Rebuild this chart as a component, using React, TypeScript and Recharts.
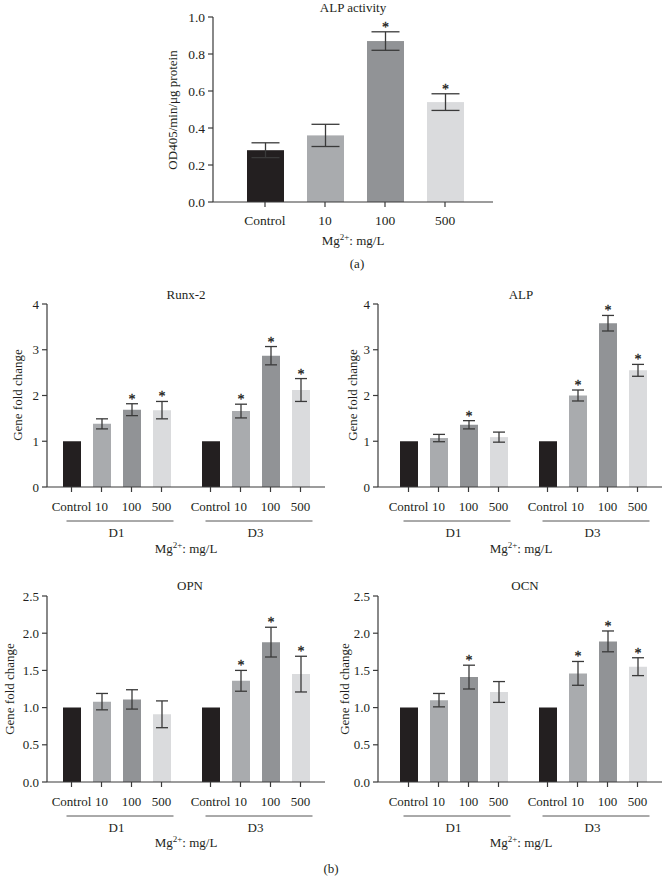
import React from 'react';
import { BarChart, Bar, XAxis, YAxis, ErrorBar } from 'recharts';

const FONT = '"Liberation Serif", "Times New Roman", serif';
const INK = '#3a3a3a';
const TEXT = '#231f20';

const doses = ['Control', '10', '100', '500'];
const doseColors = ['#231f20', '#a9abae', '#919396', '#dadbdd'];
const days = ['D1', 'D3'];

// (a) ALP activity, one value per dose
const alpActMean = [0.28, 0.36, 0.87, 0.54];
const alpActErr = [0.04, 0.06, 0.05, 0.045];
const alpActStar = ['', '', '*', '*'];
const alpActTicks = [0, 0.2, 0.4, 0.6, 0.8, 1.0];

// (b) gene fold change: rows are days (D1, D3), columns are doses
const runxMean = [[1, 1.38, 1.69, 1.68], [1, 1.66, 2.87, 2.12]];
const runxErr = [[0, 0.11, 0.13, 0.19], [0, 0.15, 0.2, 0.25]];
const runxStar = [['', '', '*', '*'], ['', '*', '*', '*']];

const alpMean = [[1, 1.07, 1.36, 1.09], [1, 2.0, 3.58, 2.55]];
const alpErr = [[0, 0.08, 0.09, 0.11], [0, 0.12, 0.17, 0.13]];
const alpStar = [['', '', '*', ''], ['', '*', '*', '*']];

const opnMean = [[1, 1.08, 1.11, 0.91], [1, 1.36, 1.88, 1.45]];
const opnErr = [[0, 0.11, 0.13, 0.18], [0, 0.14, 0.2, 0.24]];
const opnStar = [['', '', '', ''], ['', '*', '*', '*']];

const ocnMean = [[1, 1.1, 1.41, 1.21], [1, 1.46, 1.89, 1.55]];
const ocnErr = [[0, 0.09, 0.16, 0.14], [0, 0.16, 0.14, 0.12]];
const ocnStar = [['', '', '*', ''], ['', '*', '*', '*']];

const ticks4 = [0, 1, 2, 3, 4];
const ticks25 = [0, 0.5, 1.0, 1.5, 2.0, 2.5];

const BAR = 18;
const GAP = 12;

const Txt = ({ x, y, size = 13, rotate = false, children }: any) => (
  <div
    style={{
      position: 'absolute',
      left: x,
      top: y,
      transform: `translate(-50%, -50%)${rotate ? ' rotate(-90deg)' : ''}`,
      whiteSpace: 'nowrap',
      fontFamily: FONT,
      fontSize: size,
      lineHeight: 1,
      color: TEXT,
    }}
  >
    {children}
  </div>
);

const MgLabel = ({ x, y }: any) => (
  <Txt x={x} y={y}>
    Mg<span style={{ fontSize: 9, position: 'relative', top: -5, lineHeight: 0 }}>2+</span>: mg/L
  </Txt>
);

// asterisk above the error bar; pixels per unit come from the bar itself
const starLabel = (errs: number[], stars: string[]) => (p: any) => {
  const vb = p.viewBox || {};
  const x = vb.x ?? p.x;
  const y = vb.y ?? p.y;
  const w = vb.width ?? p.width;
  const h = vb.height ?? p.height;
  const i = p.index;
  if (!stars[i] || !p.value) return null;
  const top = y - (errs[i] * h) / p.value;
  return (
    <text x={x + w / 2} y={top} textAnchor="middle" fontFamily={FONT} fontSize={14}
      fill={TEXT} stroke={TEXT} strokeWidth={0.3}>
      {stars[i]}
    </text>
  );
};

const DayTick = (props: any) => {
  const { x, y, payload } = props;
  return (
    <g>
      {doses.map((d, j) => {
        const cx = x + (j - 1.5) * (BAR + GAP);
        return (
          <g key={d}>
            <line x1={cx} x2={cx} y1={y} y2={y + 5} stroke={INK} strokeWidth={1.2} />
            <text x={cx} y={y + 24} textAnchor="middle" fontFamily={FONT} fontSize={13} fill={TEXT}>
              {d}
            </text>
          </g>
        );
      })}
      <line x1={x - 50} x2={x + 57} y1={y + 34} y2={y + 34} stroke="#555" strokeWidth={1} />
      <text x={x} y={y + 50} textAnchor="middle" fontFamily={FONT} fontSize={13} fill={TEXT}>
        {payload.value}
      </text>
    </g>
  );
};

const tickStyle = { fontFamily: FONT, fontSize: 13, fill: TEXT };

const GeneChart = ({ mean, err, star, ticks, fmt, left, top, width, yAxisW, padLeft, plotH }: any) => {
  const rows = days.map((day, i) => {
    const row: any = { day };
    doses.forEach((_, j) => {
      row['v' + j] = mean[i][j];
      row['e' + j] = err[i][j];
    });
    return row;
  });
  const mTop = 14;
  const xh = 70;
  return (
    <div style={{ position: 'absolute', left, top }}>
      <BarChart
        width={width}
        height={mTop + plotH + xh}
        data={rows}
        margin={{ top: mTop, right: width === 330 ? 5 : 1, left: 0, bottom: 0 }}
        barGap={GAP}
      >
        <XAxis
          dataKey="day"
          height={xh}
          interval={0}
          tickSize={0}
          tickMargin={0}
          tick={<DayTick />}
          axisLine={{ stroke: INK, strokeWidth: 1.2 }}
          padding={{ left: padLeft, right: 0 }}
        />
        <YAxis
          width={yAxisW}
          domain={[ticks[0], ticks[ticks.length - 1]]}
          ticks={ticks}
          interval={0}
          tickFormatter={fmt}
          tick={tickStyle}
          tickSize={5}
          tickMargin={3}
          axisLine={{ stroke: INK, strokeWidth: 1.2 }}
          tickLine={{ stroke: INK, strokeWidth: 1.2 }}
        />
        {doses.map((d, j) => (
          <Bar
            key={d}
            dataKey={'v' + j}
            fill={doseColors[j]}
            barSize={BAR}
            isAnimationActive={false}
            label={starLabel(err.map((r: number[]) => r[j]), star.map((r: string[]) => r[j]))}
          >
            <ErrorBar dataKey={'e' + j} width={6} stroke={INK} strokeWidth={1.3} isAnimationActive={false} />
          </Bar>
        ))}
      </BarChart>
    </div>
  );
};

export default function App() {
  const actRows = doses.map((dose, i) => ({ dose, mean: alpActMean[i], err: alpActErr[i] }));
  const int = (v: number) => String(v);
  const one = (v: number) => v.toFixed(1);

  return (
    <div style={{ position: 'absolute', left: 0, top: 0, width: 663, height: 886, background: '#fff', overflow: 'hidden' }}>
      {/* (a) */}
      <div style={{ position: 'absolute', left: 0, top: 0 }}>
        <BarChart width={663} height={240} data={actRows} margin={{ top: 17, right: 170, left: 150, bottom: 8 }}>
          <XAxis
            dataKey="dose"
            height={30}
            interval={0}
            tick={{ ...tickStyle, fontSize: 13.5 }}
            tickSize={5}
            tickMargin={8}
            axisLine={{ stroke: INK, strokeWidth: 1.2 }}
            tickLine={{ stroke: INK, strokeWidth: 1.2 }}
            padding={{ left: 22, right: 18 }}
          />
          <YAxis
            width={63}
            domain={[0, 1]}
            ticks={alpActTicks}
            interval={0}
            tickFormatter={one}
            tick={{ ...tickStyle, fontSize: 13.5 }}
            tickSize={5}
            tickMargin={3}
            axisLine={{ stroke: INK, strokeWidth: 1.2 }}
            tickLine={{ stroke: INK, strokeWidth: 1.2 }}
          />
          <Bar dataKey="mean" barSize={37} isAnimationActive={false} label={starLabel(alpActErr, alpActStar)}
            shape={(p: any) => <rect x={p.x} y={p.y} width={p.width} height={p.height} fill={doseColors[p.index]} />}
          >
            <ErrorBar dataKey="err" width={14} stroke={INK} strokeWidth={1.3} isAnimationActive={false} />
          </Bar>
        </BarChart>
      </div>
      <Txt x={353} y={7}>ALP activity</Txt>
      <Txt x={172} y={110} rotate>OD405/min/μg protein</Txt>
      <MgLabel x={353} y={240} />
      <Txt x={357} y={263}>(a)</Txt>

      {/* (b) */}
      <GeneChart mean={runxMean} err={runxErr} star={runxStar} ticks={ticks4} fmt={int}
        left={0} top={290} width={330} yAxisW={47} padLeft={0} plotH={183} />
      <GeneChart mean={alpMean} err={alpErr} star={alpStar} ticks={ticks4} fmt={int}
        left={330} top={290} width={333} yAxisW={48} padLeft={6} plotH={183} />
      <GeneChart mean={opnMean} err={opnErr} star={opnStar} ticks={ticks25} fmt={one}
        left={0} top={582} width={330} yAxisW={47} padLeft={0} plotH={186} />
      <GeneChart mean={ocnMean} err={ocnErr} star={ocnStar} ticks={ticks25} fmt={one}
        left={330} top={582} width={333} yAxisW={48} padLeft={6} plotH={186} />

      <Txt x={186} y={294}>Runx-2</Txt>
      <Txt x={521} y={294}>ALP</Txt>
      <Txt x={17} y={395} rotate>Gene fold change</Txt>
      <Txt x={352} y={395} rotate>Gene fold change</Txt>
      <MgLabel x={186} y={548} />
      <MgLabel x={521} y={548} />

      <Txt x={190} y={585}>OPN</Txt>
      <Txt x={525} y={585}>OCN</Txt>
      <Txt x={9} y={689} rotate>Gene fold change</Txt>
      <Txt x={344} y={689} rotate>Gene fold change</Txt>
      <MgLabel x={186} y={842} />
      <MgLabel x={521} y={842} />
      <Txt x={331} y={868}>(b)</Txt>
    </div>
  );
}
